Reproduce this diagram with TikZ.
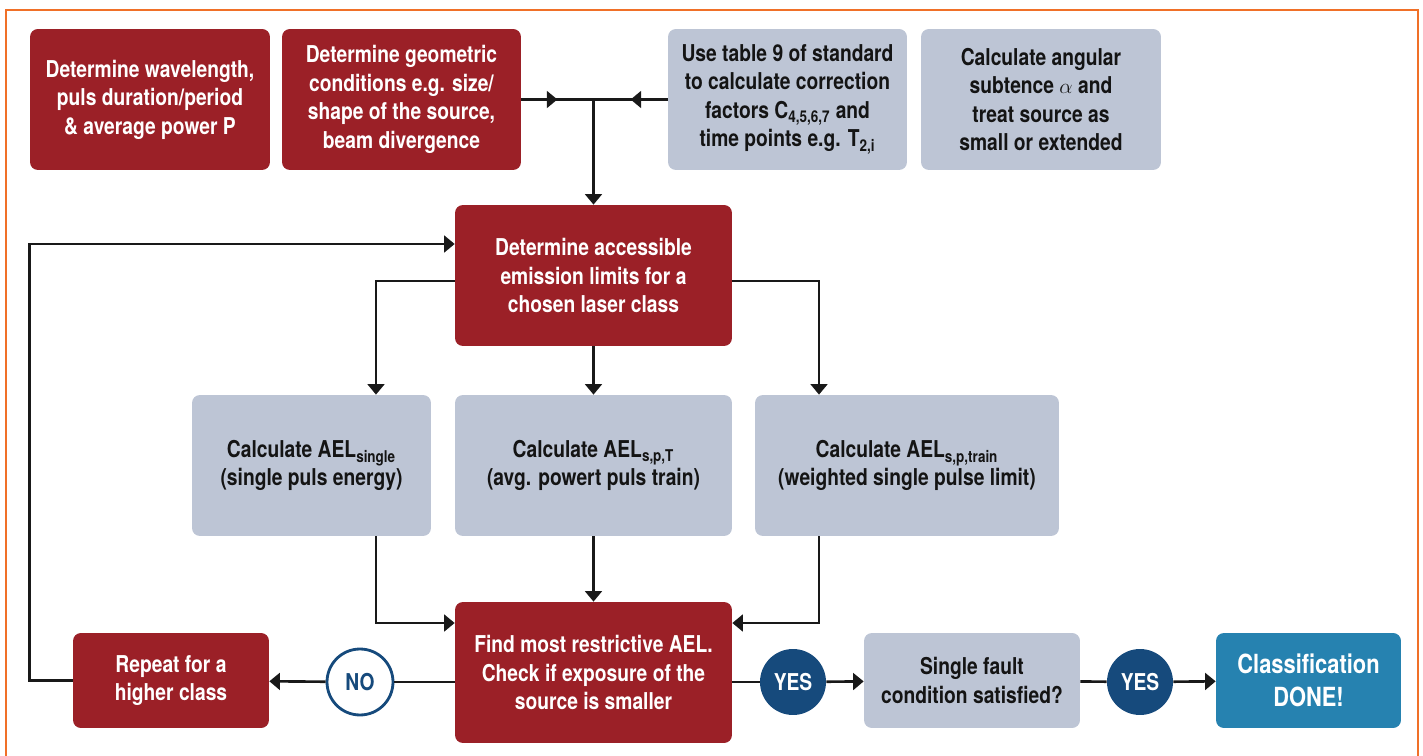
\documentclass[tikz,border=0pt]{standalone}
\usepackage{fontspec}
\setmainfont[FakeStretch=0.83]{TeX Gyre Heros}
\usetikzlibrary{arrows.meta,decorations.markings}

\definecolor{cred}{RGB}{155,32,39}
\definecolor{cgray}{RGB}{189,197,213}
\definecolor{cnavy}{RGB}{22,74,124}
\definecolor{cteal}{RGB}{38,130,176}
\definecolor{corange}{RGB}{240,112,40}
\definecolor{cline}{RGB}{25,25,25}
\newcommand{\boxfont}{\bfseries\fontsize{13.2}{16.2}\selectfont}

\tikzset{
  flow/.style={x=0.02cm,y=-0.02cm},
  dims/.style 2 args={minimum width=#1*0.2mm,minimum height=#2*0.2mm},
  card/.style={rounded corners=4.5pt,align=center,inner sep=0pt,font=\boxfont},
  redbox/.style={card,fill=cred,text=white},
  graybox/.style={card,fill=cgray,text=black!92},
  donebox/.style={card,fill=cteal,text=white,font=\bfseries\fontsize{15}{18.5}\selectfont},
  nobubble/.style={circle,draw=cnavy,line width=1.6pt,fill=white,text=cnavy,
    minimum size=66*0.2mm,inner sep=0pt,font=\boxfont},
  yesbubble/.style={circle,fill=cnavy,text=white,minimum size=66*0.2mm,inner sep=0pt,font=\boxfont},
  link/.style={draw=cline,line width=1.5pt},
  arr/.style={link,-{Triangle[width=9.5pt,length=6pt]}},
  midarr/.style={link,postaction={decorate},decoration={markings,
    mark=at position 0.5 with {\arrow{Triangle[width=9.5pt,length=6pt]}}}}
}

\begin{document}
\begin{tikzpicture}[flow]
  \useasboundingbox (0,0) rectangle (1423,756);
  \draw[corange,line width=0.9pt] (6,756) -- (6,10) -- (1418,10) -- (1418,756);

  % top row
  \node[redbox,dims={240}{141}] (wave) at (150,99.5)
    {Determine wavelength,\\ puls duration/period\\ \& average power P};
  \node[redbox,dims={239}{141}] (geom) at (401.5,99.5)
    {Determine geometric\\ conditions e.g. size/\\ shape of the source,\\ beam divergence};
  \node[graybox,dims={239}{141}] (table) at (787.5,99.5)
    {Use table 9 of standard\\ to calculate correction\\ factors C\textsubscript{4,5,6,7} and\\ time points e.g. T\textsubscript{2,i}};
  \node[graybox,dims={240}{141}] (angle) at (1041,99.5)
    {Calculate angular\\ subtence $\alpha$ and\\ treat source as\\ small or extended};
  \coordinate (join) at (593.5,99.5);

  % limits
  \node[redbox,dims={277}{141}] (limits) at (593.5,275.5)
    {Determine accessible\\ emission limits for a\\ chosen laser class};
  \node[graybox,dims={239}{141}] (single) at (311.5,465.5)
    {Calculate AEL\textsubscript{single}\\ (single puls energy)};
  \node[graybox,dims={277}{141}] (avg) at (593.5,465.5)
    {Calculate AEL\textsubscript{s,p,T}\\ (avg. powert puls train)};
  \node[graybox,dims={304}{141}] (train) at (907,465.5)
    {Calculate AEL\textsubscript{s,p,train}\\ (weighted single pulse limit)};

  % bottom row
  \node[redbox,dims={277}{141}] (check) at (593.5,672.5)
    {Find most restrictive AEL.\\ Check if exposure of the\\ source is smaller};
  \node[redbox,dims={196}{95}] (repeat) at (171,680.5) {Repeat for a\\ higher class};
  \node[nobubble] (no) at (360,682) {NO};
  \node[yesbubble] (yes1) at (793,682) {YES};
  \node[graybox,dims={216}{95}] (fault) at (972,680.5) {Single fault\\ condition satisfied?};
  \node[yesbubble] (yes2) at (1140,682) {YES};
  \node[donebox,dims={185}{95}] (done) at (1308.5,680.5) {Classification\\ DONE!};

  \draw[midarr] (geom) -- (join);
  \draw[midarr] (table) -- (join);
  \draw[arr] (join) -- (limits);
  \draw[arr] ([yshift=-1.1mm]limits.west) -| ([xshift=12.9mm]single.north);
  \draw[arr] (limits) -- (avg);
  \draw[arr] ([yshift=-1.1mm]limits.east) -| ([xshift=-17.6mm]train.north);
  \draw[arr] ([xshift=12.9mm]single.south) |- ([yshift=9.9mm]check.west);
  \draw[arr] (avg) -- (check);
  \draw[arr] ([xshift=-17.6mm]train.south) |- ([yshift=9.9mm]check.east);
  \draw[link] (check.west |- no) -- (no);
  \draw[arr] (no) -- (repeat);
  \draw[arr] (repeat.west) -- ++(-43,0) |- ([yshift=6.3mm]limits.west);
  \draw[link] (check.east |- yes1) -- (yes1);
  \draw[arr] (yes1) -- (fault);
  \draw[link] (fault) -- (yes2);
  \draw[arr] (yes2) -- (done);
\end{tikzpicture}
\end{document}
